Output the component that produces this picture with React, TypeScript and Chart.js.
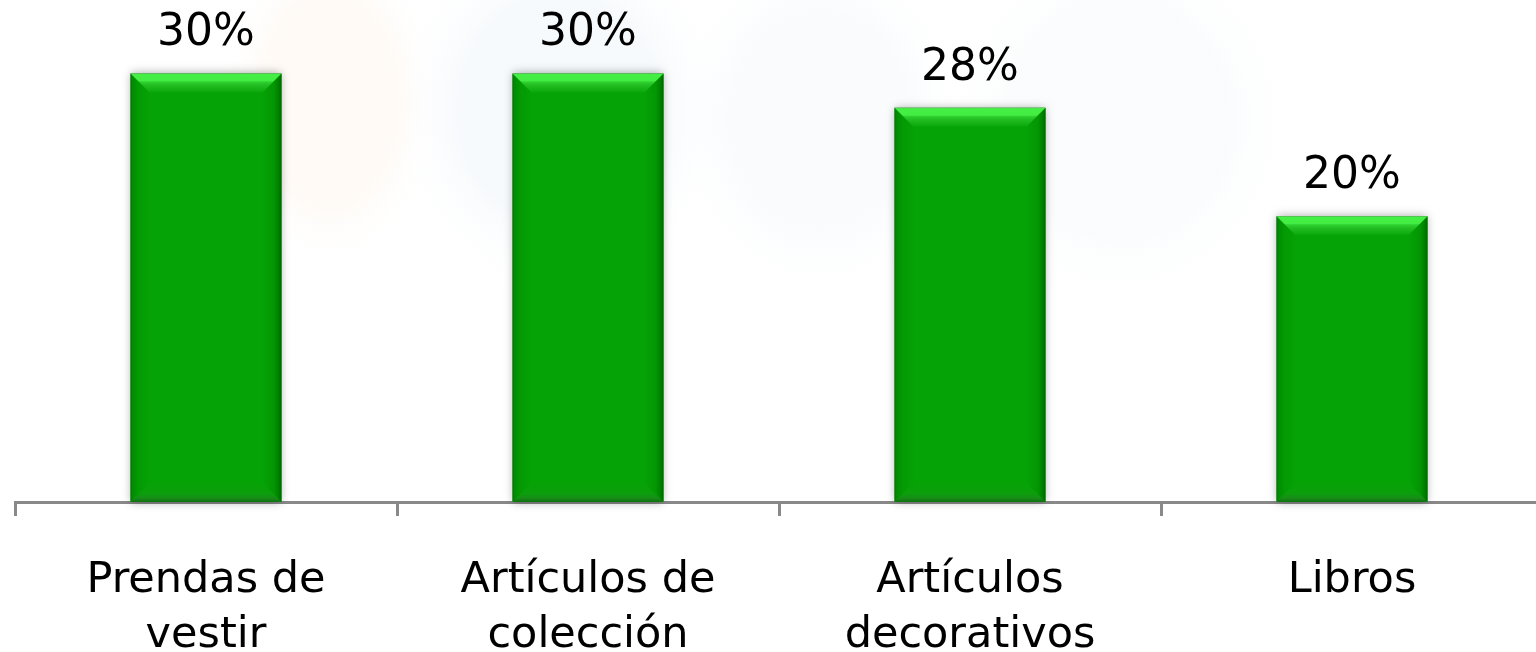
import React, { useEffect, useRef } from "react";
import { Chart, registerables } from "chart.js";
Chart.register(...registerables);

const categories: string[][] = [
  ["Prendas de", "vestir"],
  ["Artículos de", "colección"],
  ["Artículos", "decorativos"],
  ["Libros"],
];
const values: number[] = [30, 30, 27.6, 20];
const valueLabels: string[] = ["30%", "30%", "28%", "20%"];

const W = 1560;
const H = 652;

export default function App() {
  const ref = useRef<HTMLCanvasElement>(null);

  useEffect(() => {
    const canvas = ref.current!;

    const watermark = {
      id: "watermark",
      beforeDraw(chart: any) {
        const ctx = chart.ctx as CanvasRenderingContext2D;
        ctx.save();
        ctx.fillStyle = "#ffffff";
        ctx.fillRect(0, 0, chart.width, chart.height);
        const blobs = [
          { x: 330, y: 100, rx: 110, ry: 170, c: "rgba(252,232,210,0.22)" },
          { x: 560, y: 110, rx: 170, ry: 190, c: "rgba(214,228,242,0.2)" },
          { x: 820, y: 120, rx: 150, ry: 180, c: "rgba(220,232,244,0.16)" },
          { x: 1120, y: 120, rx: 180, ry: 190, c: "rgba(226,236,240,0.16)" },
        ];
        for (const b of blobs) {
          ctx.save();
          ctx.translate(b.x, b.y);
          ctx.scale(b.rx / 100, b.ry / 100);
          const g = ctx.createRadialGradient(0, 0, 0, 0, 0, 100);
          g.addColorStop(0, b.c);
          g.addColorStop(0.6, b.c);
          g.addColorStop(1, "rgba(255,255,255,0)");
          ctx.fillStyle = g;
          ctx.fillRect(-100, -100, 200, 200);
          ctx.restore();
        }
        ctx.restore();
      },
    };

    const bevel = {
      id: "bevel",
      beforeDatasetsDraw(chart: any) {
        const ctx = chart.ctx as CanvasRenderingContext2D;
        const meta = chart.getDatasetMeta(0);
        ctx.save();
        meta.data.forEach((el: any) => {
          const { x, y, base, width } = el.getProps(["x", "y", "base", "width"], true);
          ctx.shadowColor = "rgba(0,0,0,0.35)";
          ctx.shadowBlur = 9;
          ctx.fillStyle = "#9aa59a";
          ctx.fillRect(x - width / 2, y, width, base - y);
        });
        ctx.restore();
      },
      afterDatasetsDraw(chart: any) {
        const ctx = chart.ctx as CanvasRenderingContext2D;
        const meta = chart.getDatasetMeta(0);
        ctx.save();
        meta.data.forEach((el: any, i: number) => {
          const { x, y, base, width } = el.getProps(["x", "y", "base", "width"], true);
          const x0 = x - width / 2;
          const x1 = x + width / 2;
          const y0 = y;
          const y1 = base;
          const b = 19;
          // left
          let g = ctx.createLinearGradient(x0, 0, x0 + b, 0);
          g.addColorStop(0, "#007a00");
          g.addColorStop(0.12, "#008e00");
          g.addColorStop(0.4, "#039a03");
          g.addColorStop(1, "#05a205");
          ctx.fillStyle = g;
          ctx.beginPath();
          ctx.moveTo(x0, y0);
          ctx.lineTo(x0 + b, y0 + b);
          ctx.lineTo(x0 + b, y1 - b);
          ctx.lineTo(x0, y1);
          ctx.closePath();
          ctx.fill();
          // right
          g = ctx.createLinearGradient(x1 - b, 0, x1, 0);
          g.addColorStop(0, "#05a205");
          g.addColorStop(0.6, "#049604");
          g.addColorStop(0.86, "#007e00");
          g.addColorStop(1, "#006200");
          ctx.fillStyle = g;
          ctx.beginPath();
          ctx.moveTo(x1, y0);
          ctx.lineTo(x1 - b, y0 + b);
          ctx.lineTo(x1 - b, y1 - b);
          ctx.lineTo(x1, y1);
          ctx.closePath();
          ctx.fill();
          // bottom
          g = ctx.createLinearGradient(0, y1 - b, 0, y1);
          g.addColorStop(0, "#05a305");
          g.addColorStop(0.55, "#0c9e0c");
          g.addColorStop(0.8, "#188c18");
          g.addColorStop(1, "#0e700e");
          ctx.fillStyle = g;
          ctx.beginPath();
          ctx.moveTo(x0, y1);
          ctx.lineTo(x0 + b, y1 - b);
          ctx.lineTo(x1 - b, y1 - b);
          ctx.lineTo(x1, y1);
          ctx.closePath();
          ctx.fill();
          // top
          g = ctx.createLinearGradient(0, y0, 0, y0 + b);
          g.addColorStop(0, "#62c962");
          g.addColorStop(0.06, "#45f045");
          g.addColorStop(0.4, "#42ec42");
          g.addColorStop(0.44, "#30d230");
          g.addColorStop(0.62, "#22bd22");
          g.addColorStop(1, "#0aa70a");
          ctx.fillStyle = g;
          ctx.beginPath();
          ctx.moveTo(x0, y0);
          ctx.lineTo(x1, y0);
          ctx.lineTo(x1 - b, y0 + b);
          ctx.lineTo(x0 + b, y0 + b);
          ctx.closePath();
          ctx.fill();

          // value label
          ctx.fillStyle = "#000000";
          ctx.font = '44px "DejaVu Sans"';
          ctx.textAlign = "center";
          ctx.textBaseline = "alphabetic";
          ctx.fillText(valueLabels[i], x, y0 - 28);
        });
        ctx.restore();
      },
    };

    const chart = new Chart(canvas, {
      type: "bar",
      data: {
        labels: categories,
        datasets: [
          {
            data: values,
            backgroundColor: "#05a305",
            borderWidth: 0,
            barPercentage: 0.79,
            categoryPercentage: 0.5,
          },
        ],
      },
      options: {
        responsive: false,
        animation: false,
        devicePixelRatio: 1,
        layout: { padding: { left: 15, right: W - 1543, top: 2, bottom: 0 } },
        plugins: {
          legend: { display: false },
          tooltip: { enabled: false },
          title: { display: false },
        },
        scales: {
          y: {
            display: false,
            min: 0,
            max: 35,
          },
          x: {
            offset: true,
            afterFit(scale: any) {
              scale.height = H - 502;
            },
            border: { display: true, color: "#898989", width: 3 },
            grid: {
              display: true,
              offset: true,
              drawOnChartArea: false,
              drawTicks: true,
              tickLength: 14,
              color: "#898989",
              lineWidth: 3,
            },
            ticks: {
              color: "#000000",
              padding: 37,
              maxRotation: 0,
              autoSkip: false,
              font: { family: "DejaVu Sans", size: 43, lineHeight: 1.28 },
            },
          },
        },
      },
      plugins: [watermark, bevel],
    });
    return () => chart.destroy();
  }, []);

  return (
    <div
      style={{
        position: "fixed",
        left: 0,
        top: 0,
        width: 1536,
        height: 652,
        overflow: "hidden",
        background: "#ffffff",
      }}
    >
      <canvas ref={ref} width={W} height={H} style={{ width: W, height: H, display: "block" }} />
    </div>
  );
}
